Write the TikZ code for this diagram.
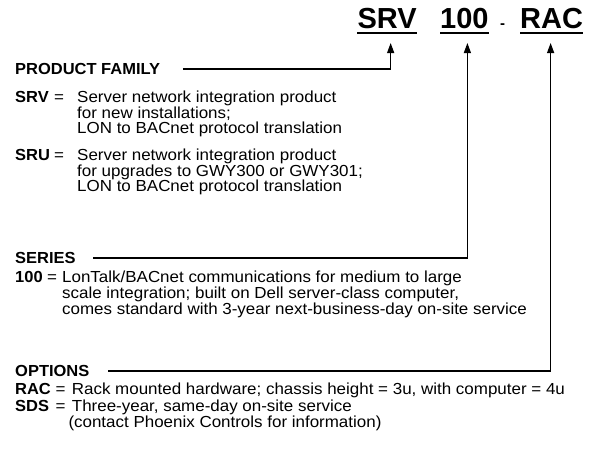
\documentclass[tikz,border=0pt]{standalone}
\usepackage{fontspec}
\setmainfont{Liberation Sans}
\newfontfamily\bodyfont[FakeStretch=1.06]{Liberation Sans}
\newfontfamily\labelfont[FakeStretch=1.03]{Liberation Sans}
\usetikzlibrary{arrows.meta}
\begin{document}
\begin{tikzpicture}[x=1pt,y=-1pt,
  txt/.style={inner sep=0pt, anchor=base west, font=\bodyfont\fontsize{16}{16}\selectfont},
  lbl/.style={inner sep=0pt, anchor=base west, font=\labelfont\bfseries\fontsize{16}{16}\selectfont},
  ttl/.style={inner sep=0pt, anchor=base west, font=\bfseries\fontsize{29}{30}\selectfont},
  conn/.style={line width=1.2pt, -{Triangle[length=10pt,width=7pt]}},
  uline/.style={line width=2pt}]
\useasboundingbox (0,0) rectangle (594,451);
% title
\node[ttl] (srv) at (357.4,28) {SRV};
\node[ttl] (num) at (440,28) {100};
\node[inner sep=0pt, anchor=base west, font=\bfseries\fontsize{15}{15}\selectfont] (dash) at (500,28) {-};
\node[ttl] (rac) at (520,28) {RAC};
\draw[uline] ([yshift=-5.3pt]srv.base west) -- ([yshift=-5.3pt]srv.base east);
\draw[uline] ([yshift=-5.3pt]num.base west) -- ([yshift=-5.3pt]num.base east);
\draw[uline] ([yshift=-5.3pt]rac.base west) -- ([yshift=-5.3pt]rac.base east);
% product family
\node[lbl] (pf) at (15,74.5) {PRODUCT FAMILY};
\node[lbl] (srvl) at (15,102.5) {SRV};
\node[txt] (srveq) at (54,102.5) {=};
\node[txt] (srv1) at (77,102.5) {Server network integration product};
\node[txt] (srv2) at (77,118) {for new installations;};
\node[txt] (srv3) at (77,133.5) {LON to BACnet protocol translation};
\node[lbl] (srul) at (15,160.5) {SRU};
\node[txt] (srueq) at (54,160.5) {=};
\node[txt] (sru1) at (77,160.5) {Server network integration product};
\node[txt] (sru2) at (77,176) {for upgrades to GWY300 or GWY301;};
\node[txt] (sru3) at (77,191.5) {LON to BACnet protocol translation};
% series
\node[lbl] (series) at (15,263.5) {SERIES};
\node[lbl] (hund) at (15,282.5) {100};
\node[txt] (hundeq) at (47,282.5) {=};
\node[txt] (ser1) at (62,282.5) {LonTalk/BACnet communications for medium to large};
\node[txt] (ser2) at (62,298.5) {scale integration; built on Dell server-class computer,};
\node[txt] (ser3) at (62,314.5) {comes standard with 3-year next-business-day on-site service};
% options
\node[lbl] (opt) at (15,376.5) {OPTIONS};
\node[lbl] (racl) at (15,394.5) {RAC};
\node[txt] (raceq) at (55.5,394.5) {=};
\node[txt] (rac1) at (71.7,394.5) {Rack mounted hardware; chassis height = 3u, with computer = 4u};
\node[lbl] (sdsl) at (15,411.5) {SDS};
\node[txt] (sdseq) at (55.5,411.5) {=};
\node[txt] (sds1) at (71.7,411.5) {Three-year, same-day on-site service};
\node[txt] (sds2) at (68.3,427.5) {(contact Phoenix Controls for information)};
% connectors
\draw[conn] ([xshift=22.5pt]pf.east) -| ([xshift=3.5pt,yshift=-15pt]srv.base);
\draw[conn] ([xshift=17.5pt]series.east) -| ([xshift=3pt,yshift=-15pt]num.base);
\draw[conn] ([xshift=18.7pt]opt.east) -| ([xshift=-1pt,yshift=-15pt]rac.base);
\end{tikzpicture}
\end{document}
